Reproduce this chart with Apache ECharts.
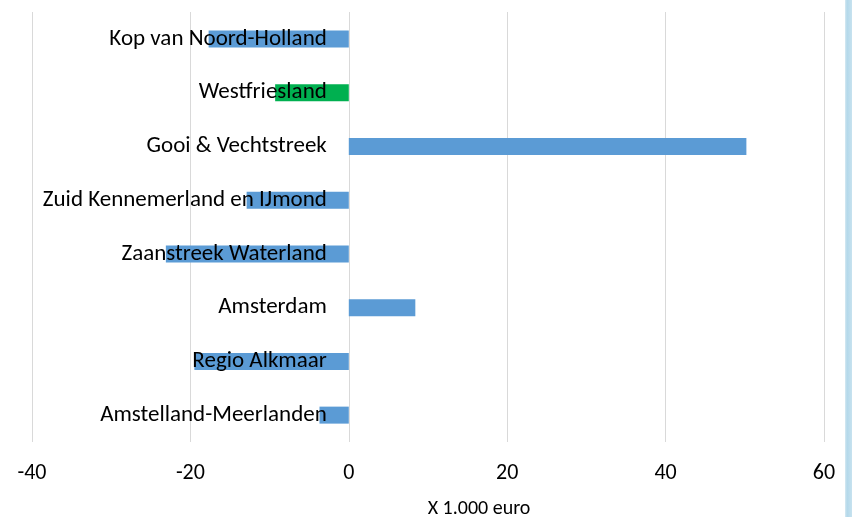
<!DOCTYPE html>
<html>
<head>
<meta charset="utf-8">
<script src="https://cdn.jsdelivr.net/npm/echarts@6/dist/echarts.min.js"></script>
<style>
  html, body { margin: 0; padding: 0; background: #fff; }
  #chart { width: 852px; height: 517px; }
</style>
</head>
<body>
<div id="chart"></div>
<script>
// Regions, listed bottom to top as the category axis draws them
const regions = [
  'Amstelland-Meerlanden',
  'Regio Alkmaar',
  'Amsterdam',
  'Zaanstreek Waterland',
  'Zuid Kennemerland en IJmond',
  'Gooi & Vechtstreek',
  'Westfriesland',
  'Kop van Noord-Holland'
];
// Amounts in thousands of euros
const amounts = [-3.7, -19.5, 8.4, -23.1, -12.9, 50.2, -9.3, -17.7];
// Region shown in green
const highlighted = 'Westfriesland';
const xTicks = [-40, -20, 0, 20, 40, 60];
const xTitle = 'X 1.000 euro';

const BLUE = '#5B9BD5';
const GREEN = '#00B050';
const FONT = 'Carlito, "Noto Sans", sans-serif';

const WIDTH = 852;
const GRID = { left: 32, right: 28, top: 12, bottom: 75 };
const xMin = xTicks[0];
const xMax = xTicks[xTicks.length - 1];
// shift the category axis from the grid's left edge to the zero line
const zeroShift = (0 - xMin) / (xMax - xMin) * (WIDTH - GRID.left - GRID.right);

const chart = echarts.init(document.getElementById('chart'));
chart.setOption({
  animation: false,
  grid: Object.assign({ containLabel: false, outerBoundsMode: 'none' }, GRID),
  xAxis: {
    type: 'value',
    min: xMin,
    max: xMax,
    interval: 20,
    name: xTitle,
    nameLocation: 'middle',
    nameGap: 57,
    nameTextStyle: { fontFamily: FONT, fontSize: 20, color: '#000', padding: [0, 0, 0, 102] },
    axisLine: { show: false },
    axisTick: { show: false },
    axisLabel: { fontFamily: FONT, fontSize: 22, color: '#000', margin: 20 },
    splitLine: { lineStyle: { color: '#d9d9d9', width: 1 } }
  },
  yAxis: {
    type: 'category',
    data: regions,
    z: 5,
    position: 'left',
    offset: -zeroShift,
    axisLine: { show: false },
    axisTick: { show: false },
    axisLabel: { fontFamily: FONT, fontSize: 23, color: '#000', margin: 22 },
    splitLine: { show: false }
  },
  series: [{
    type: 'bar',
    barWidth: 17,
    data: amounts.map((v, i) => ({
      value: v,
      itemStyle: { color: regions[i] === highlighted ? GREEN : BLUE }
    }))
  }],
  graphic: [{
    type: 'rect',
    shape: { x: 845, y: 0, width: 7, height: 517 },
    style: {
      fill: new echarts.graphic.LinearGradient(0, 0, 1, 0, [
        { offset: 0, color: '#d6e9f2' },
        { offset: 0.3, color: '#b3d8ea' },
        { offset: 1, color: '#c7e2ef' }
      ])
    },
    silent: true
  }]
});
</script>
</body>
</html>
